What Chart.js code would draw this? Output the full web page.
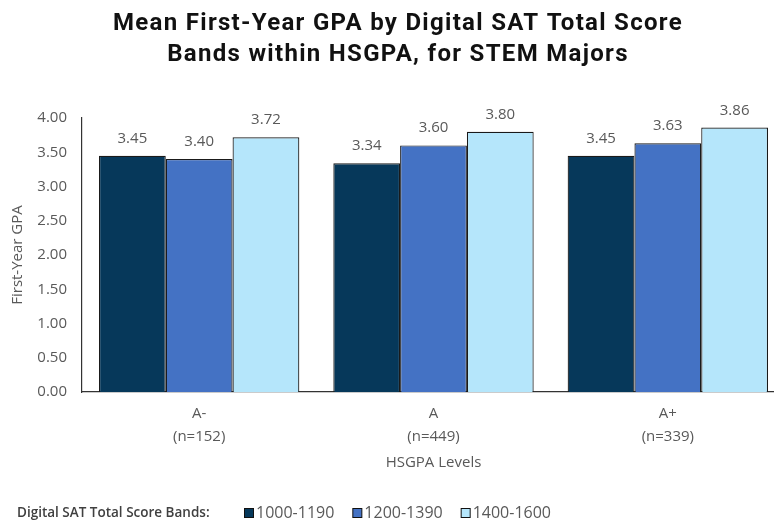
<!DOCTYPE html>
<html>
<head>
<meta charset="utf-8">
<title>Mean First-Year GPA by Digital SAT Total Score Bands</title>
<script src="https://cdn.jsdelivr.net/npm/chart.js@4.4.1/dist/chart.umd.min.js"></script>
<style>
    html, body { margin: 0; padding: 0; background: #ffffff; overflow: hidden; }
    #wrap { position: relative; width: 796px; height: 522px; }
</style>
</head>
<body>
<div id="wrap"><canvas id="gpaChart"></canvas></div>
<script>
// Chart data
const titleLines = ['Mean First-Year GPA by Digital SAT Total Score', 'Bands within HSGPA, for STEM Majors'];
const hsgpaLevels = [['A-', '(n=152)'], ['A', '(n=449)'], ['A+', '(n=339)']];
const bandNames = ['1000-1190', '1200-1390', '1400-1600'];
const band1000 = [3.45, 3.34, 3.45];
const band1200 = [3.40, 3.60, 3.63];
const band1400 = [3.72, 3.80, 3.86];
const yTicks = [0, 0.5, 1, 1.5, 2, 2.5, 3, 3.5, 4];
const legendTitle = 'Digital SAT Total Score Bands:';

const bandColors = ['#06385a', '#4472c4', '#b5e6fb'];
const grayText = '#595959';
const bodyFont = '"Open Sans", sans-serif';

// Title drawn by hand so the letter spacing can be set
const titlePlugin = {
    id: 'titleLines',
    afterDraw(chart) {
        const ctx = chart.ctx;
        ctx.save();
        ctx.font = 'bold 24px Roboto, sans-serif';
        ctx.fillStyle = '#111111';
        ctx.textAlign = 'center';
        ctx.textBaseline = 'middle';
        ctx.letterSpacing = '1.3px';
        titleLines.forEach((line, i) => {
            ctx.fillText(line, chart.width / 2, 24 + i * 31);
        });
        ctx.restore();
    }
};

// Value labels above each bar
const valueLabels = {
    id: 'valueLabels',
    afterDatasetsDraw(chart) {
        const ctx = chart.ctx;
        ctx.save();
        ctx.font = '15px ' + bodyFont;
        ctx.fillStyle = grayText;
        ctx.textAlign = 'center';
        ctx.textBaseline = 'alphabetic';
        chart.data.datasets.forEach((ds, i) => {
            chart.getDatasetMeta(i).data.forEach((bar, j) => {
                ctx.fillText(ds.data[j].toFixed(2), bar.x, bar.y - 13);
            });
        });
        ctx.restore();
    }
};

// Legend row at the bottom with its lead-in text
const legendRow = {
    id: 'legendRow',
    afterDraw(chart) {
        const ctx = chart.ctx;
        const y = 513;
        ctx.save();
        ctx.textBaseline = 'middle';
        ctx.font = '600 13.5px ' + bodyFont;
        ctx.fillStyle = '#404040';
        ctx.fillText(legendTitle, 17, y);

        ctx.font = '16px ' + bodyFont;
        let x = 244;
        chart.data.datasets.forEach(ds => {
            ctx.fillStyle = ds.backgroundColor;
            ctx.strokeStyle = '#111111';
            ctx.lineWidth = 1;
            ctx.fillRect(x + 0.5, y - 4.5, 9, 9);
            ctx.strokeRect(x + 0.5, y - 4.5, 9, 9);
            ctx.fillStyle = grayText;
            ctx.fillText(ds.label, x + 12, y);
            x += 12 + ctx.measureText(ds.label).width + 18;
        });
        ctx.restore();
    }
};

const ctx = document.getElementById('gpaChart').getContext('2d');
const gpaChart = new Chart(ctx, {
    type: 'bar',
    data: {
        labels: hsgpaLevels,
        datasets: [
            { label: bandNames[0], data: band1000, backgroundColor: bandColors[0] },
            { label: bandNames[1], data: band1200, backgroundColor: bandColors[1] },
            { label: bandNames[2], data: band1400, backgroundColor: bandColors[2] }
        ]
    },
    options: {
        responsive: true,
        maintainAspectRatio: false,
        animation: false,
        layout: {
            padding: { top: 118, right: 11, bottom: 0, left: 0 }
        },
        datasets: {
            bar: {
                borderColor: '#1a1a1a',
                borderWidth: 1.2,
                categoryPercentage: 0.855,
                barPercentage: 1.0
            }
        },
        plugins: {
            legend: { display: false },
            title: { display: false },
            tooltip: { enabled: false }
        },
        scales: {
            x: {
                grid: { display: false, drawTicks: false },
                border: { display: true, color: '#333333', width: 1.2 },
                ticks: {
                    color: grayText,
                    padding: 10,
                    font: { family: bodyFont, size: 15, lineHeight: 1.53 }
                },
                title: {
                    display: true,
                    text: 'HSGPA Levels',
                    color: grayText,
                    font: { family: bodyFont, size: 15 },
                    padding: { top: 0, bottom: 50 }
                },
                afterFit(scale) {
                    scale.height = 130;
                }
            },
            y: {
                min: 0,
                max: 4,
                afterBuildTicks(scale) {
                    scale.ticks = yTicks.map(v => ({ value: v }));
                },
                grid: { display: false, drawTicks: false },
                border: { display: true, color: '#333333', width: 1.2 },
                ticks: {
                    color: grayText,
                    padding: 15,
                    font: { family: bodyFont, size: 15 },
                    callback: value => Number(value).toFixed(2)
                },
                title: {
                    display: true,
                    text: 'First-Year GPA',
                    color: grayText,
                    font: { family: bodyFont, size: 15 },
                    padding: { top: 9, bottom: 0 }
                },
                afterFit(scale) {
                    scale.width = 82;
                }
            }
        }
    },
    plugins: [titlePlugin, valueLabels, legendRow]
});
</script>
</body>
</html>
